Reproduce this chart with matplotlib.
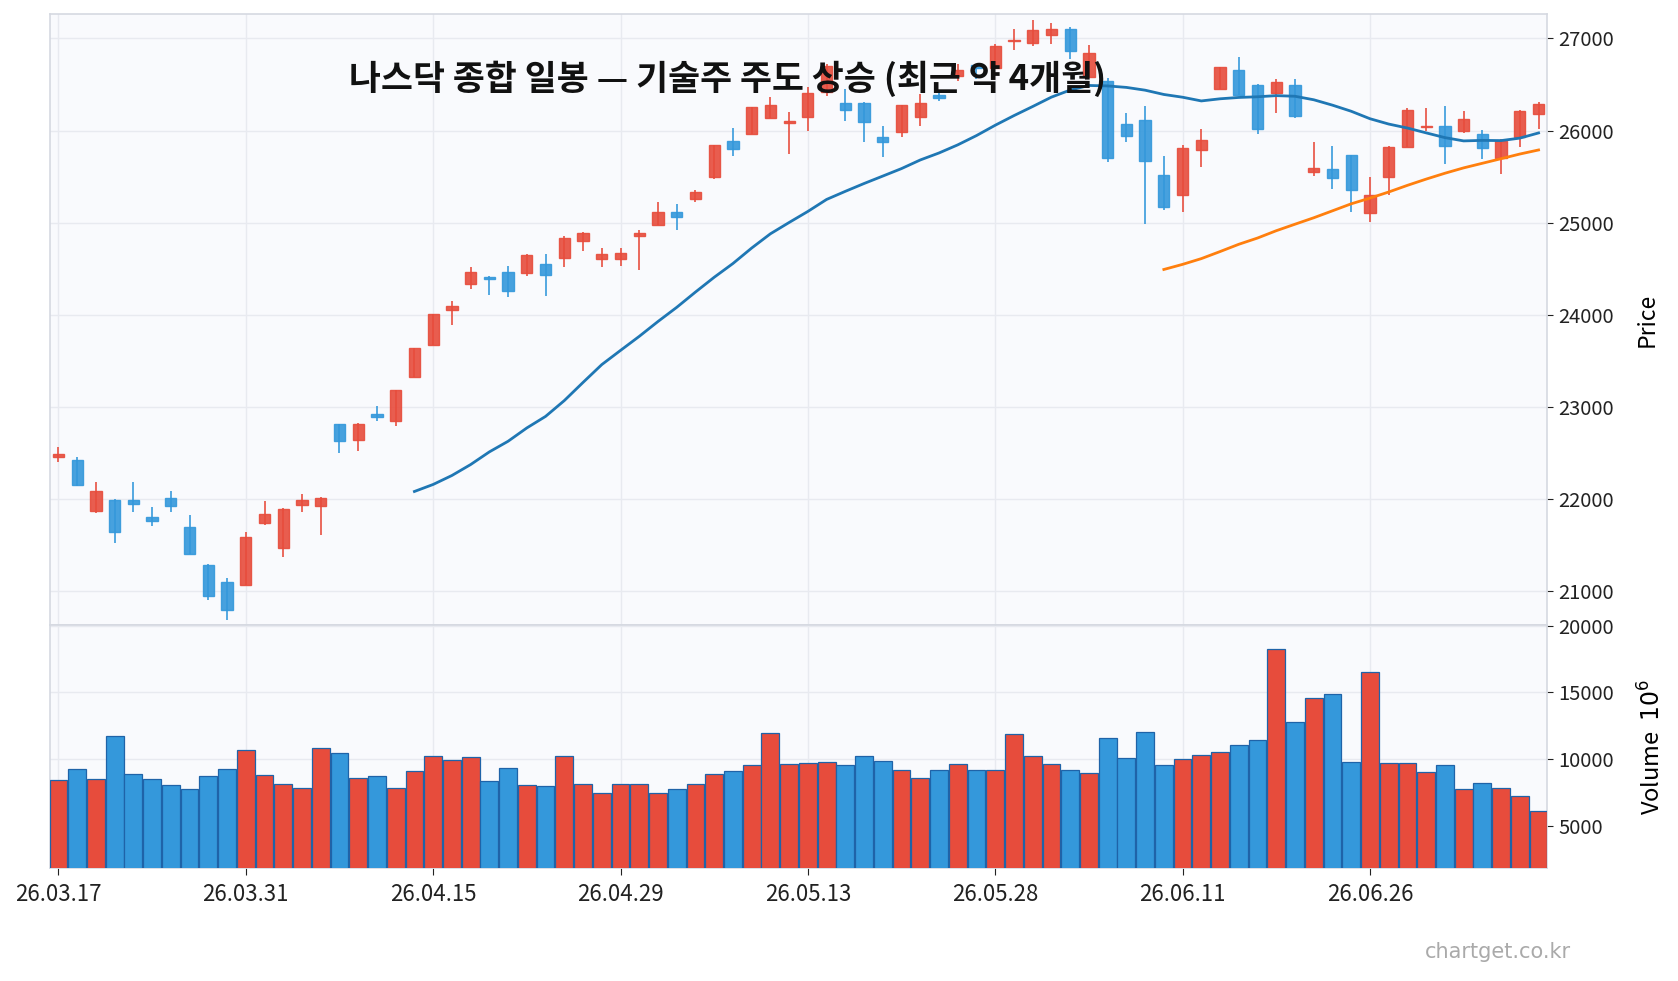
import numpy as np
import pandas as pd
import matplotlib
matplotlib.use("Agg")
import matplotlib.pyplot as plt
from matplotlib.patches import Rectangle

plt.rcParams['font.family'] = ['Noto Sans CJK KR', 'DejaVu Sans']

# ---------------- data ----------------
holidays = ['2026-04-03', '2026-05-25', '2026-06-19', '2026-07-03']
dates = pd.bdate_range('2026-03-17', '2026-07-10', freq='C', holidays=holidays)

opens = [22452, 22423, 21866, 21989, 21989, 21805, 22004, 21696, 21284, 21100,
         21063, 21736, 21465, 21931, 21921, 22814, 22633, 22919, 22843, 23320,
         23675, 24054, 24329, 24413, 24463, 24449, 24554, 24611, 24796, 24601,
         24601, 24850, 24978, 25112, 25261, 25493, 25888, 25957, 26138, 26083,
         26149, 26420, 26301, 26301, 25928, 25989, 26145, 26384, 26591, 26707,
         26681, 26971, 26953, 27036, 27102, 26580, 26536, 26073, 26112, 25515,
         25301, 25783, 26446, 26662, 26498, 26411, 26498, 25553, 25582, 25735,
         25102, 25498, 25826, 26036, 26047, 26000, 25960, 25702, 25927, 26175]
highs = [22561, 22449, 22181, 21993, 22181, 21910, 22083, 21823, 21288, 21139,
         21638, 21975, 21899, 22051, 22015, 22814, 22828, 23006, 23183, 23638,
         24007, 24145, 24514, 24423, 24525, 24655, 24655, 24850, 24894, 24720,
         24720, 24923, 25218, 25203, 25355, 25844, 26029, 26254, 26359, 26196,
         26478, 26720, 26453, 26308, 26051, 26279, 26399, 26410, 26725, 26717,
         26935, 27098, 27196, 27170, 27123, 26924, 26573, 26185, 26261, 25728,
         25848, 26011, 26689, 26800, 26509, 26564, 26564, 25880, 25836, 25735,
         25491, 25829, 26247, 26240, 26262, 26207, 26007, 25905, 26218, 26305]
lows = [22402, 22141, 21848, 21523, 21859, 21707, 21859, 21400, 20904, 20687,
        21063, 21718, 21371, 21859, 21610, 22499, 22521, 22846, 22792, 23320,
        23675, 23888, 24279, 24214, 24192, 24423, 24199, 24514, 24691, 24517,
        24528, 24481, 24978, 24920, 25221, 25475, 25721, 25957, 26138, 25743,
        25993, 26380, 26101, 25873, 25710, 25928, 26051, 26326, 26536, 26562,
        26681, 26870, 26917, 26942, 26779, 26580, 25656, 25877, 24986, 25141,
        25113, 25602, 26446, 26382, 25964, 26189, 26135, 25509, 25360, 25120,
        25011, 25298, 25826, 26000, 25636, 25975, 25687, 25527, 25826, 26011]
closes = [22481, 22148, 22087, 21638, 21942, 21758, 21921, 21400, 20944, 20792,
          21588, 21837, 21884, 21989, 22011, 22626, 22817, 22893, 23183, 23638,
          24007, 24094, 24463, 24391, 24253, 24651, 24427, 24836, 24890, 24662,
          24673, 24890, 25112, 25065, 25330, 25841, 25804, 26254, 26279, 26098,
          26406, 26700, 26225, 26091, 25870, 26279, 26297, 26355, 26652, 26681,
          26917, 26982, 27091, 27102, 26862, 26841, 25703, 25935, 25674, 25167,
          25808, 25895, 26689, 26382, 26018, 26527, 26160, 25593, 25480, 25357,
          25298, 25822, 26226, 26051, 25833, 26124, 25815, 25891, 26211, 26291]
# volume in units of 10^6
volumes = [8458, 9279, 8532, 11692, 8856, 8483, 8035, 7736, 8706, 9229,
           10647, 8781, 8109, 7861, 10796, 10423, 8607, 8706, 7861, 9080,
           10199, 9950, 10124, 8333, 9303, 8035, 7960, 10199, 8109, 7438,
           8109, 8109, 7487, 7786, 8109, 8856, 9080, 9527, 11965, 9602,
           9677, 9790, 9527, 10249, 9876, 9204, 8582, 9204, 9652, 9204,
           9204, 11891, 10199, 9652, 9204, 8980, 11542, 10050, 12040, 9527,
           10025, 10323, 10547, 11070, 11393, 18234, 12786, 14577, 14876, 9801,
           16518, 9726, 9726, 9055, 9527, 7786, 8234, 7836, 7239, 6070]

ma_windows = [20, 60]
ma_colors = ['#1f77b4', '#ff7f0e']
title = '나스닥 종합 일봉 — 기술주 주도 상승 (최근 약 4개월)'
watermark = 'chartget.co.kr'

# ---------------- style ----------------
UP = '#e74c3c'
DOWN = '#3498db'
FACE = '#f9fafd'
GRID = '#e8eaf0'
SPINE = '#d5d9e1'

n = len(closes)
x = np.arange(n)
o = np.array(opens, float); h = np.array(highs, float)
l = np.array(lows, float); c = np.array(closes, float)
v = np.array(volumes, float)
up = c >= o
cols = np.where(up, UP, DOWN)

fig = plt.figure(figsize=(16.78, 9.81), dpi=100)
W, H = 1678, 981
left, right = 50 / W, 1547 / W
ax = fig.add_axes([left, 1 - 625 / H, right - left, (625 - 14) / H])
axv = fig.add_axes([left, 1 - 868 / H, right - left, (868 - 625) / H], sharex=ax)

for a in (ax, axv):
    a.set_facecolor(FACE)
    a.grid(True, color=GRID, linewidth=1.0)
    a.set_axisbelow(True)
    for s in a.spines.values():
        s.set_color(SPINE)
        s.set_linewidth(1.2)
    a.yaxis.tick_right()
    a.yaxis.set_label_position('right')
    a.tick_params(axis='y', colors='#222222', labelsize=14.5, length=4, width=0.8, pad=4)

# candles
bw = 0.6
for i in range(n):
    ax.vlines(x[i], l[i], h[i], color=cols[i], linewidth=1.3, alpha=0.9, zorder=2)
    lo = min(o[i], c[i]); hi = max(o[i], c[i])
    hgt = max(hi - lo, 6)
    ax.add_patch(Rectangle((x[i] - bw / 2, lo), bw, hgt, facecolor=cols[i],
                           edgecolor=cols[i], linewidth=1.0, alpha=0.9, zorder=3))

# moving averages
s = pd.Series(c)
for w, mc in zip(ma_windows, ma_colors):
    ax.plot(x, s.rolling(w).mean(), color=mc, linewidth=2.0, zorder=4)

rng = h.max() - l.min()
ax.set_ylim(l.min() - 0.009 * rng, h.max() + 0.0107 * rng)
ax.set_yticks(np.arange(21000, 27001, 1000))
ax.set_ylabel('Price', fontsize=16.5, labelpad=16)
ax.tick_params(axis='x', labelbottom=False, length=0)

# volume
axv.bar(x, v, width=0.95, color=cols, edgecolor='#1f63a8', linewidth=0.9, zorder=3)
axv.set_ylim(0.3 * v.min(), 1.1 * v.max())
axv.set_yticks([5000, 10000, 15000, 20000])
axv.set_ylabel('Volume  $10^{6}$', fontsize=17, labelpad=18)

tick_idx = list(range(0, n, 10))
axv.set_xticks(tick_idx)
axv.set_xticklabels([dates[i].strftime('%y.%m.%d') for i in tick_idx])
axv.tick_params(axis='x', colors='#222222', labelsize=16, length=5, width=0.8, pad=6)
axv.set_xlim(-0.45, n - 1 + 0.45)

fig.text(0.4335, 1 - 79 / H, title, fontsize=25, fontweight='bold', ha='center', va='center',
         color='#111111')
fig.text(1571 / W, 1 - 952 / H, watermark, fontsize=15, color='#aaaaaa', ha='right', va='center',
         family='DejaVu Sans')

fig.savefig('out.png', dpi=100, facecolor='white')
